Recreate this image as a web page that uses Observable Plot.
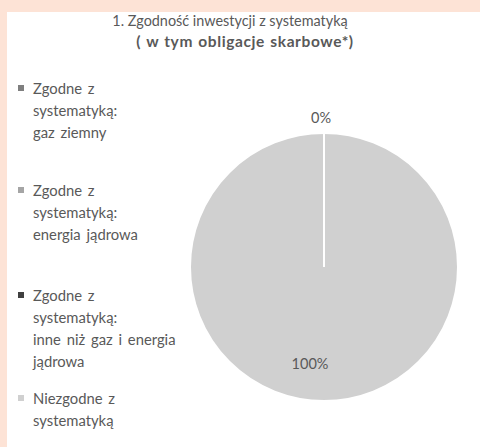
<!DOCTYPE html>
<html><head><meta charset="utf-8">
<script src="https://cdn.jsdelivr.net/npm/d3@7"></script>
<script src="https://cdn.jsdelivr.net/npm/@observablehq/plot@0.6"></script>
<style>
html,body{margin:0;padding:0;width:480px;height:447px;overflow:hidden;background:#fde3d6;font-family:Lato,"Open Sans",sans-serif;color:#595959;}
#panel{position:absolute;left:7px;top:12px;width:473px;height:435px;background:#fff;}
.t{position:absolute;white-space:nowrap;transform:translate(-50%,-50%);}
.t1{left:223px;top:8px;font-size:14.4px;}
.t2{left:238px;top:29px;font-weight:bold;font-size:15.5px;letter-spacing:0.6px;word-spacing:1px;}
#legend{position:absolute;left:0;top:0;}
.item{position:absolute;left:11px;font-size:14.8px;line-height:22px;white-space:nowrap;word-spacing:2px;}
.sw{position:absolute;left:0;top:8px;width:6px;height:6px;}
.txt{position:absolute;left:15px;top:0;}
#chart{position:absolute;left:169px;top:85px;}
</style></head><body>
<div id="panel">
 <div class="t t1">1. Zgodność inwestycji z systematyką</div>
 <div class="t t2">( w tym obligacje skarbowe*)</div>
 <div id="legend"></div>
 <div id="chart"></div>
</div>
<script>
// categories (legend order = slice order, clockwise from 12 o'clock)
const categories = [
  "Zgodne z systematyką: gaz ziemny",
  "Zgodne z systematyką: energia jądrowa",
  "Zgodne z systematyką: inne niż gaz i energia jądrowa",
  "Niezgodne z systematyką"
];
const legendLines = [
  ["Zgodne z", "systematyką:", "gaz ziemny"],
  ["Zgodne z", "systematyką:", "energia jądrowa"],
  ["Zgodne z", "systematyką:", "inne niż gaz i energia", "jądrowa"],
  ["Niezgodne z", "systematyką"]
];
const shares = [0, 0, 0, 100];
const shareLabels = ["0%", "0%", "0%", "100%"];
const palette = ["#7f7f7f", "#a5a5a5", "#404040", "#d0d0d0"];

const data = categories.map((c, i) => ({category: c, value: shares[i], label: shareLabels[i]}));

// legend
const legendTops = [65, 167, 272, 375];
const legend = document.getElementById("legend");
categories.forEach((c, i) => {
  const it = document.createElement("div");
  it.className = "item";
  it.style.top = legendTops[i] + "px";
  const sw = document.createElement("div");
  sw.className = "sw";
  sw.style.background = palette[i];
  const tx = document.createElement("div");
  tx.className = "txt";
  tx.innerHTML = legendLines[i].join("<br>");
  it.appendChild(sw); it.appendChild(tx);
  legend.appendChild(it);
});

const color = d3.scaleOrdinal(categories, palette);

function pieMark(index, scales, values, dims) {
  const cx = dims.width / 2, cy = dims.height / 2;
  const r = 134;
  const total = d3.sum(data, d => d.value);
  const arcs = d3.pie().sort(null).value(d => d.value)(data);
  const arc = d3.arc().innerRadius(0).outerRadius(r);
  const g = d3.create("svg:g").attr("transform", `translate(${cx},${cy})`);
  g.append("g").selectAll("path").data(arcs).join("path")
    .attr("d", arc).attr("fill", d => color(d.data.category));
  g.append("g").selectAll("path").data(arcs).join("path")
    .attr("d", arc).attr("fill", "none").attr("stroke", "#fff").attr("stroke-width", 2);
  // label positions; overlapping labels (same spot) are drawn once, as Excel shows them
  const seen = new Set();
  const labelled = arcs.map(d => {
    const a = (d.startAngle + d.endAngle) / 2;
    const small = d.data.value / total < 0.05;
    const rr = small ? r + 15 : r * 0.72;
    const dx = small ? -3 : -14;
    return {x: Math.sin(a) * rr + dx, y: -Math.cos(a) * rr, label: d.data.label};
  }).filter(p => {
    const k = Math.round(p.x) + "," + Math.round(p.y);
    if (seen.has(k)) return false;
    seen.add(k); return true;
  });
  g.append("g").selectAll("text").data(labelled).join("text")
    .attr("x", d => d.x).attr("y", d => d.y)
    .attr("text-anchor", "middle").attr("dy", "0.35em")
    .attr("fill", "#595959").attr("font-size", 14.5).attr("font-family", "Lato, sans-serif")
    .text(d => d.label);
  return g.node();
}

const chart = Plot.plot({
  width: 296,
  height: 340,
  style: {background: "transparent", overflow: "visible"},
  marks: [pieMark]
});
document.getElementById("chart").appendChild(chart);
</script>
</body></html>
